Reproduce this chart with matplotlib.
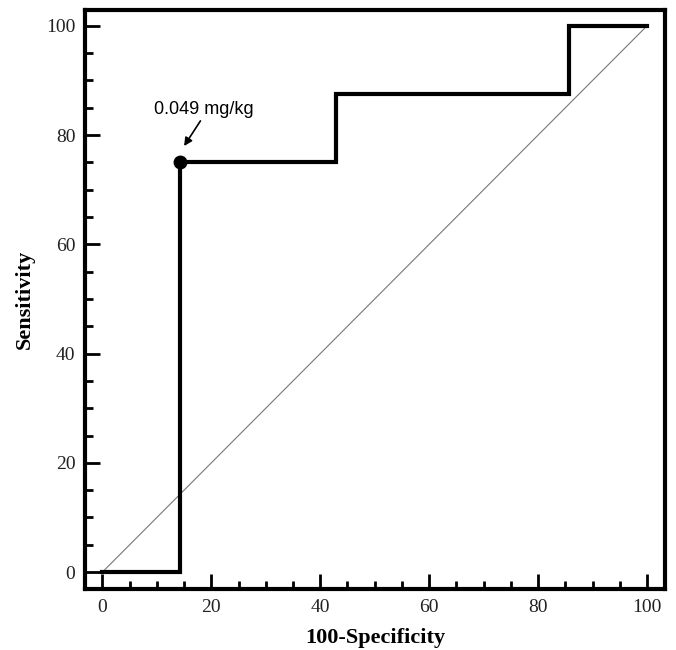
import matplotlib
matplotlib.use("Agg")
import matplotlib.pyplot as plt
from matplotlib.ticker import MultipleLocator

# ROC step curve (100-specificity vs sensitivity)
fpr = [0, 14.3, 14.3, 42.9, 42.9, 85.7, 85.7, 100]
tpr = [0, 0, 75, 75, 87.5, 87.5, 100, 100]
cut_x, cut_y = 14.3, 75
cut_label = "0.049 mg/kg"
ref_line = [0, 100]

fig = plt.figure(figsize=(6.76, 6.5), dpi=100)
ax = fig.add_axes([0.1257, 0.0938, 0.858, 0.8908])

ax.plot(ref_line, ref_line, color="#777777", lw=0.8)
ax.plot(fpr, tpr, color="black", lw=3, solid_joinstyle="miter")
ax.plot(cut_x, cut_y, "o", color="black", ms=9)

ax.text(18.6, 84.6, cut_label, ha="center", va="center",
        fontsize=13, family="Liberation Sans")
ax.annotate("", xy=(15.0, 78.0), xytext=(18.0, 82.6),
            arrowprops=dict(arrowstyle="-|>", color="black", lw=1.2,
                            mutation_scale=12, shrinkA=0, shrinkB=0))

ax.set_xlim(-3.2, 103.3)
ax.set_ylim(-3.1, 102.9)
ax.xaxis.set_major_locator(MultipleLocator(20))
ax.xaxis.set_minor_locator(MultipleLocator(5))
ax.yaxis.set_major_locator(MultipleLocator(20))
ax.yaxis.set_minor_locator(MultipleLocator(5))

ax.tick_params(which="both", direction="in", top=False, right=False,
               width=2, labelsize=14, pad=7)
ax.tick_params(which="major", length=11)
ax.tick_params(which="minor", length=6)
for lab in ax.get_xticklabels() + ax.get_yticklabels():
    lab.set_family("Liberation Serif")
    lab.set_color("#222222")

for s in ax.spines.values():
    s.set_linewidth(3)

ax.set_xlabel("100-Specificity", family="Liberation Serif",
              fontweight="bold", fontsize=16, labelpad=9)
ax.set_ylabel("Sensitivity", family="Liberation Serif",
              fontweight="bold", fontsize=16, labelpad=8)

fig.savefig("out.png", dpi=100)
